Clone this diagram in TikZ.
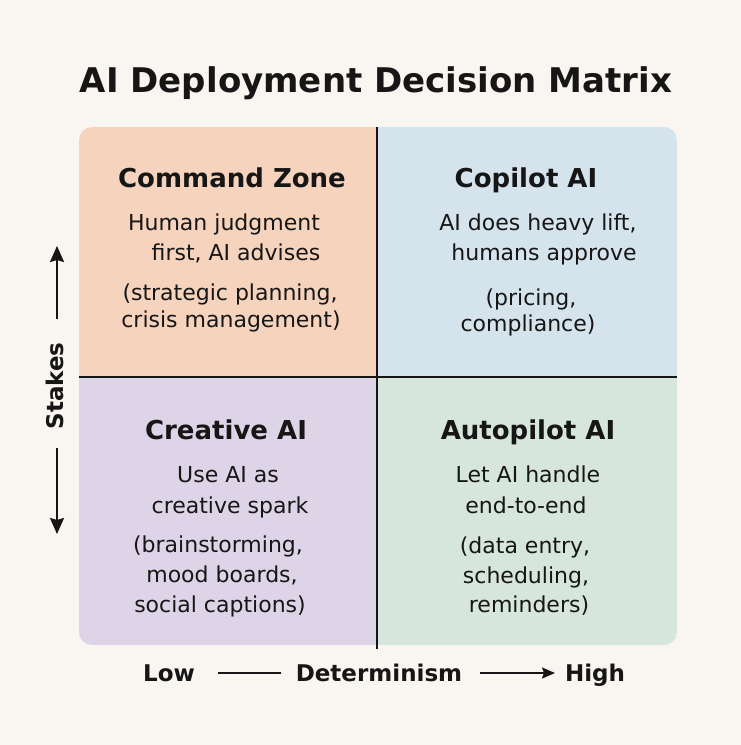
\documentclass[tikz,border=0pt]{standalone}
\usepackage{fontspec}
\setmainfont{DejaVu Sans}
\usetikzlibrary{arrows.meta}
\definecolor{bgc}{HTML}{F9F5F0}
\definecolor{peach}{HTML}{F6D3BC}
\definecolor{skyb}{HTML}{D4E3EC}
\definecolor{lav}{HTML}{DDD4E7}
\definecolor{mint}{HTML}{D6E6DC}
\definecolor{ink}{HTML}{161616}
\tikzset{
  head/.style={anchor=base, font=\fontsize{26}{30}\selectfont\bfseries, text=ink, inner sep=0pt},
  body/.style={anchor=base, font=\fontsize{22}{26}\selectfont, text=ink, inner sep=0pt},
  axislab/.style={font=\fontsize{23}{27}\selectfont\bfseries, text=ink, inner sep=0pt},
  divider/.style={draw=ink, line width=2.8pt},
  axisline/.style={draw=ink, line width=2pt},
  vtip/.style={-{Stealth[length=16pt,width=14pt,inset=2pt]}},
  htip/.style={-{Stealth[length=13pt,width=11pt,inset=2pt]}}
}
\begin{document}
\begin{tikzpicture}[x=1pt,y=-1pt]
\fill[bgc] (0,0) rectangle (741,745);
\useasboundingbox (0,0) rectangle (741,745);
% title
\node[anchor=base, font=\fontsize{34}{40}\selectfont\bfseries, text=ink, inner sep=0pt] (title) at (376,92) {AI Deployment Decision Matrix};
% quadrants
\begin{scope}
\clip[rounded corners=13pt] (79,127) rectangle (677,645);
\fill[peach] (79,127) rectangle (377,377);
\fill[skyb] (377,127) rectangle (677,377);
\fill[lav] (79,377) rectangle (377,645);
\fill[mint] (377,377) rectangle (677,645);
\end{scope}
\coordinate (vt) at (377,127);
\coordinate (vb) at (377,649);
\coordinate (hl) at (79,377);
\coordinate (hr) at (677,377);
\draw[divider] (vt) -- (vb);
\draw[divider] (hl) -- (hr);
% top-left
\node[head] (cz) at (232,187) {Command Zone};
\node[body] (cz1) at (224,230) {Human judgment};
\node[body] (cz2) at (236,260) {first, AI advises};
\node[body] (cz3) at (230,300) {(strategic planning,};
\node[body] (cz4) at (231,327) {crisis management)};
% top-right
\node[head] (cp) at (526,187) {Copilot AI};
\node[body] (cp1) at (538,230) {AI does heavy lift,};
\node[body] (cp2) at (544,260) {humans approve};
\node[body] (cp3) at (531,305) {(pricing,};
\node[body] (cp4) at (528,331) {compliance)};
% bottom-left
\node[head] (cr) at (226,439) {Creative AI};
\node[body] (cr1) at (228,482) {Use AI as};
\node[body] (cr2) at (230,513) {creative spark};
\node[body] (cr3) at (218,552) {(brainstorming,};
\node[body] (cr4) at (222,582) {mood boards,};
\node[body] (cr5) at (220,612) {social captions)};
% bottom-right
\node[head] (ap) at (528,439) {Autopilot AI};
\node[body] (ap1) at (528,482) {Let AI handle};
\node[body] (ap2) at (526,513) {end-to-end};
\node[body] (ap3) at (525,553) {(data entry,};
\node[body] (ap4) at (526,583) {scheduling,};
\node[body] (ap5) at (529,612) {reminders)};
% vertical axis
\node[axislab, rotate=90] (stakes) at (55,386) {Stakes};
\coordinate (upS) at (57,319);
\coordinate (upE) at (57,246);
\coordinate (dnS) at (57,448);
\coordinate (dnE) at (57,534);
\draw[axisline, vtip] (upS) -- (upE);
\draw[axisline, vtip] (dnS) -- (dnE);
% horizontal axis
\node[axislab, anchor=base] (low) at (169,681) {Low};
\node[axislab, anchor=base] (det) at (379,681) {Determinism};
\node[axislab, anchor=base] (high) at (595,681) {High};
\coordinate (l1) at (218,673);
\coordinate (l2) at (281,673);
\coordinate (a1) at (480,673);
\coordinate (a2) at (555,673);
\draw[axisline] (l1) -- (l2);
\draw[axisline, htip] (a1) -- (a2);
\end{tikzpicture}
\end{document}
